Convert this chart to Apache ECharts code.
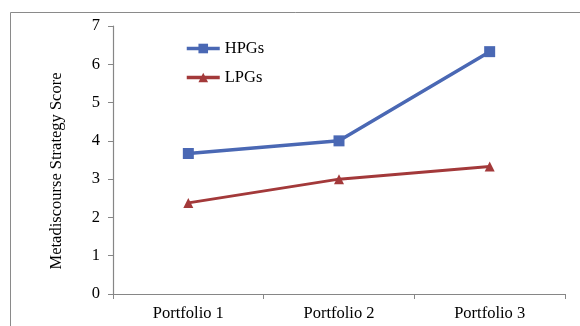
<!DOCTYPE html>
<html><head><meta charset="utf-8">
<script src="https://cdn.jsdelivr.net/npm/echarts@6/dist/echarts.min.js"></script>
<style>html,body{margin:0;padding:0;background:#fff}#c{width:580px;height:326px}</style>
</head><body><div id="c"></div>
<script>
const categories = ['Portfolio 1', 'Portfolio 2', 'Portfolio 3'];
const hpgs = [3.67, 4.0, 6.33];
const lpgs = [2.38, 3.0, 3.33];
const yTicks = [0, 1, 2, 3, 4, 5, 6, 7];
const font = '"Liberation Serif", "Times New Roman", serif';
const axisColor = '#868686';
const fs = 16.5;
const chart = echarts.init(document.getElementById('c'));
chart.setOption({
  animation: false,
  backgroundColor: '#fff',
  graphic: [{type: 'rect', shape: {x: 10.5, y: 12.5, width: 600, height: 400}, style: {fill: 'none', stroke: '#8a8a8a', lineWidth: 1}}],
  grid: {left: 113, right: 15, top: 26, bottom: 32},
  legend: {
    orient: 'vertical', left: 180, top: 35, itemGap: 12, itemWidth: 33, itemHeight: 12,
    lineStyle: {width: 3.5},
    textStyle: {fontFamily: font, fontSize: fs, color: '#000'},
    data: ['HPGs', 'LPGs']
  },
  xAxis: {
    type: 'category', data: categories, boundaryGap: true,
    axisLine: {lineStyle: {color: axisColor, width: 1.2}},
    axisTick: {show: true, length: 5, lineStyle: {color: axisColor}},
    axisLabel: {fontFamily: font, fontSize: fs, color: '#000', margin: 11}
  },
  yAxis: {
    type: 'value', min: yTicks[0], max: yTicks[yTicks.length - 1], interval: 1,
    name: 'Metadiscourse Strategy Score', nameLocation: 'middle', nameGap: 48, nameRotate: 90,
    nameTextStyle: {fontFamily: font, fontSize: fs, color: '#000', padding: [0, 22, 0, 0]},
    axisLine: {show: true, lineStyle: {color: axisColor, width: 1.2}},
    axisTick: {show: true, length: 5, lineStyle: {color: axisColor}},
    axisLabel: {fontFamily: font, fontSize: fs, color: '#000', margin: 13},
    splitLine: {show: false}
  },
  series: [
    {name: 'HPGs', type: 'line', data: hpgs, color: '#4A68B4', symbol: 'rect', symbolSize: 11,
     lineStyle: {width: 3.5, color: '#4A68B4'}, itemStyle: {color: '#4A68B4'}},
    {name: 'LPGs', type: 'line', data: lpgs, color: '#A3393A', symbol: 'triangle', symbolSize: 10,
     lineStyle: {width: 3, color: '#A3393A'}, itemStyle: {color: '#A3393A'}}
  ]
});
</script></body></html>
